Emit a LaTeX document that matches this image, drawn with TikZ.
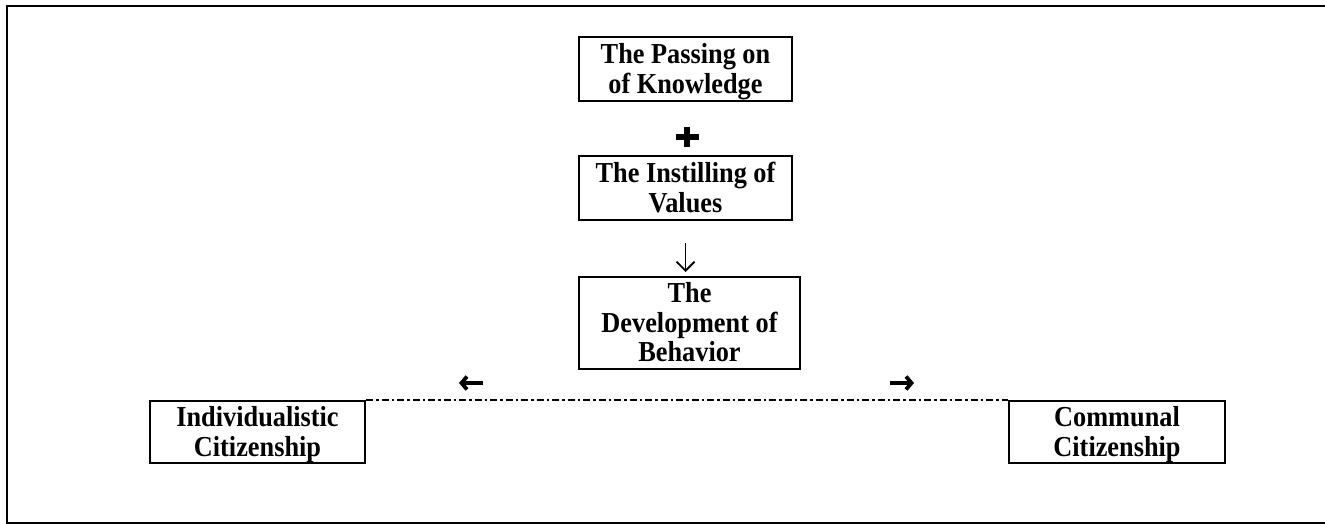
\documentclass[tikz,border=0pt]{standalone}
\usepackage{fontspec}
\setmainfont{Liberation Serif}
\usetikzlibrary{arrows.meta}
\newcommand\stxt[1]{\scalebox{1}[1.1]{\begin{tabular}{@{}c@{}}#1\end{tabular}}}
\begin{document}
\begin{tikzpicture}[x=1pt,y=-1pt,
  box/.style={draw=black,line width=2pt,rectangle,inner sep=0pt},
  boxtext/.style={inner sep=0pt,yshift=-3.5pt,font=\bfseries\fontsize{26.3}{26.8}\selectfont},
  thickarrow/.style={line width=3.8pt,-{Straight Barb[length=5.5pt,width=13pt,line width=3.8pt]}},
  frame/.style={line width=1.6pt}
]
\useasboundingbox (0,0) rectangle (1325,524);
\draw[frame] (1325,6) -- (7,6) -- (7,523) -- (1325,523);

\node[box,minimum width=213pt,minimum height=64pt,
  label={[boxtext]center:\stxt{The Passing on\\of Knowledge}}] (b1) at (685.5,69) {};
\node[box,minimum width=213pt,minimum height=64pt,
  label={[boxtext]center:\stxt{The Instilling of\\Values}}] (b2) at (685.5,188) {};
\node[box,minimum width=221pt,minimum height=92pt,
  label={[boxtext]center:\stxt{The\\Development of\\Behavior}}] (b3) at (689.5,323) {};
\node[box,minimum width=215pt,minimum height=62pt,
  label={[boxtext]center:\stxt{Individualistic\\Citizenship}}] (ind) at (257.5,432) {};
\node[box,minimum width=216pt,minimum height=62pt,
  label={[boxtext]center:\stxt{Communal\\Citizenship}}] (com) at (1117,432) {};

% plus sign
\coordinate (plus) at (687,137.5);
\draw[line width=6pt] ([xshift=-11.5pt]plus) -- ([xshift=11.5pt]plus);
\draw[line width=6pt] ([yshift=-10pt]plus) -- ([yshift=10pt]plus);

% down arrow
\draw[line width=1.8pt,-{Straight Barb[length=9pt,width=18pt,line width=1.8pt]},shorten <=22pt,shorten >=4pt]
  (b2.south) -- (b2.south |- b3.north);

% dash-dot line between bottom boxes
\draw[line width=1.8pt,dash pattern=on 7pt off 3pt on 2.5pt off 3pt] (ind.north east) -- (com.north west);

% side arrows
\coordinate (la1) at (483,383);
\coordinate (la2) at (459,383);
\coordinate (ra1) at (890,383);
\coordinate (ra2) at (914,383);
\draw[thickarrow] (la1) -- (la2);
\draw[thickarrow] (ra1) -- (ra2);
\end{tikzpicture}
\end{document}
